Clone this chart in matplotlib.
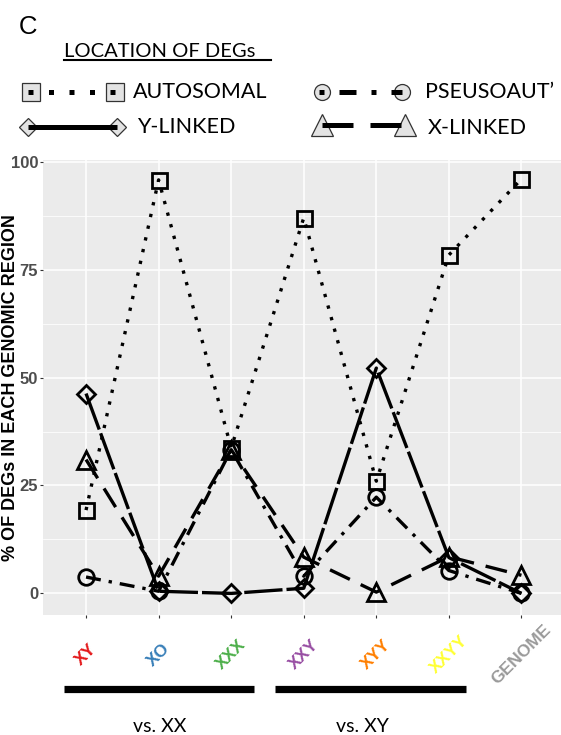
import matplotlib

matplotlib.use("Agg")

import matplotlib.pyplot as plt
from matplotlib.lines import Line2D
from matplotlib.transforms import Affine2D, blended_transform_factory
from matplotlib.ticker import FixedLocator


W, H = 561, 735

CATEGORIES = ["XY", "XO", "XXX", "XXY", "XYY", "XXYY", "GENOME"]
CAT_COLORS = ["#E41A1C", "#377EB8", "#4DAF4A", "#984EA3", "#FF7F00", "#FFFF33", "#999999"]

AUTOSOMAL = [19.3, 95.8, 33.7, 87.0, 26.0, 78.4, 96.0]
Y_LINKED = [46.3, 0.5, 0.0, 1.2, 52.2, 8.3, 0.0]
PSEUDOAUT = [3.8, 0.5, 33.3, 4.0, 22.3, 5.3, 0.0]
X_LINKED = [31.0, 4.0, 33.3, 8.4, 0.3, 8.5, 4.2]

GROUPS = ["vs. XX", "vs. XY"]
GROUP_SPANS = [(0.7, 3.32), (3.61, 6.24)]
GROUP_LABEL_X = [2.02, 4.81]

LEGEND_LABELS = ["AUTOSOMAL", "Y-LINKED", "PSEUSOAUT\u2019", "X-LINKED"]

LEGEND_FONT = "Lato"
AXIS_FONT = "Liberation Sans"

# per series style: marker, markersize, plot dashes, legend dashes
STYLES = {
    "AUTOSOMAL": dict(marker="s", ms=10.8, dashes=(1, 2.6), leg_dashes=(1, 3.1)),
    "Y-LINKED": dict(marker="D", ms=9.0, dashes=(11.5, 1.2), leg_dashes=None),
    "PSEUSOAUT\u2019": dict(marker="o", ms=11.2, dashes=(4.5, 2.4, 1, 2.4), leg_dashes=(1, 3, 3.4, 3)),
    "X-LINKED": dict(marker="^", ms=13, dashes=(6.6, 3.6), leg_dashes=(6.2, 3.4)),
}


def px_transform(fig):
    # pixel coords with origin at top-left
    return Affine2D().scale(1 / W, -1 / H).translate(0, 1) + fig.transFigure


def legend_key(fig, tr, x1, x2, y, marker, ms, dashes, text_x, text_base, label):
    fig.add_artist(Line2D([x1, x2], [y, y], transform=tr, linestyle="none",
                          marker=marker, markersize=ms, markerfacecolor="#E3E3E3",
                          markeredgecolor="#333333", markeredgewidth=0.9, zorder=3))
    lx1, lx2 = x1, x2
    if dashes is not None and dashes[0] == 1:
        lx1 -= 2.5
    kw = dict(transform=tr, color="black", linewidth=3.6, zorder=4,
              solid_capstyle="butt", dash_capstyle="butt")
    if dashes is None:
        line = Line2D([lx1, lx2], [y, y], **kw)
    else:
        line = Line2D([lx1, lx2], [y, y], dashes=dashes, **kw)
    fig.add_artist(line)
    fig.text(text_x / W, 1 - text_base / H, label, fontsize=15.5, family=LEGEND_FONT,
             ha="left", va="baseline", color="black")


def main():
    fig = plt.figure(figsize=(W / 100, H / 100), dpi=100)
    tr = px_transform(fig)

    ax = fig.add_axes([42.5 / W, 1 - 615 / H, 522.5 / W, 455 / H])
    ax.set_facecolor("#EBEBEB")
    for s in ax.spines.values():
        s.set_visible(False)

    xs = list(range(1, len(CATEGORIES) + 1))
    series = [
        ("AUTOSOMAL", AUTOSOMAL),
        ("Y-LINKED", Y_LINKED),
        ("PSEUSOAUT\u2019", PSEUDOAUT),
        ("X-LINKED", X_LINKED),
    ]
    for name, vals in series:
        st = STYLES[name]
        ax.plot(xs, vals, color="black", linewidth=2.4, dashes=st["dashes"],
                dash_capstyle="butt", zorder=3)
        ax.plot(xs, vals, linestyle="none", marker=st["marker"], markersize=st["ms"],
                markerfacecolor="none", markeredgecolor="black", markeredgewidth=2.0,
                zorder=4)

    ax.set_xlim(0.4, 7.6)
    ax.set_ylim(-5.0, 100.4)
    ax.set_yticks([0, 25, 50, 75, 100])
    ax.yaxis.set_minor_locator(FixedLocator([12.5, 37.5, 62.5, 87.5]))
    ax.grid(True, which="major", color="white", linewidth=1.1)
    ax.grid(True, which="minor", axis="y", color="white", linewidth=0.55)
    ax.set_axisbelow(True)
    ax.tick_params(axis="y", which="minor", length=0)
    ax.tick_params(axis="both", which="major", length=2.2, width=0.8, color="#333333")
    ax.tick_params(axis="y", pad=1)

    ax.set_yticklabels(["0", "25", "50", "75", "100"], fontsize=12,
                       fontweight="bold", color="#4D4D4D", family=AXIS_FONT)
    ax.set_xticks(xs)
    ax.set_xticklabels(CATEGORIES, fontsize=12.5, fontweight="bold", family=AXIS_FONT,
                       rotation=45, ha="center", va="center")
    ax.tick_params(axis="x", pad=26.5)
    for lab, col in zip(ax.get_xticklabels(), CAT_COLORS):
        lab.set_color(col)

    # the original crops this label at the edge; keep it just inside the figure
    ax.set_ylabel("% OF DEGs IN EACH GENOMIC REGION", fontsize=13, fontweight="bold",
                  family=AXIS_FONT, color="black")
    ax.yaxis.set_label_coords(-27 / 522.5, 0.5)
    ax.yaxis.label.set_va("baseline")

    # group bars below the x labels
    bt = blended_transform_factory(ax.transData, ax.transAxes)
    for name, (x0, x1), lx in zip(GROUPS, GROUP_SPANS, GROUP_LABEL_X):
        ax.plot([x0, x1], [-74 / 455, -74 / 455], color="black", linewidth=5.2,
                solid_capstyle="butt", transform=bt, clip_on=False)
        ax.text(lx, -117 / 455, name, transform=bt, ha="center", va="baseline",
                fontsize=14, family=LEGEND_FONT)

    # panel letter and legend title
    fig.text(19 / W, 1 - 34 / H, "C", fontsize=18.5, family=AXIS_FONT, va="baseline")
    fig.text(64 / W, 1 - 57 / H, "LOCATION OF DEGs", fontsize=14.5, family=LEGEND_FONT,
             va="baseline")
    fig.add_artist(Line2D([64, 271], [60.5, 60.5], transform=tr, color="black",
                          linewidth=1.5))

    legend_key(fig, tr, 31, 115, 92, "s", 13, STYLES["AUTOSOMAL"]["leg_dashes"],
               133, 98, LEGEND_LABELS[0])
    legend_key(fig, tr, 28, 117, 127, "D", 9.5, None, 137, 133, LEGEND_LABELS[1])
    legend_key(fig, tr, 322, 402, 92, "o", 11.5, STYLES["PSEUSOAUT\u2019"]["leg_dashes"],
               425, 98, LEGEND_LABELS[2])
    legend_key(fig, tr, 322, 405, 125, "^", 16, STYLES["X-LINKED"]["leg_dashes"],
               428, 134, LEGEND_LABELS[3])

    fig.savefig("out.png", dpi=100)
    plt.close(fig)


if __name__ == "__main__":
    main()
